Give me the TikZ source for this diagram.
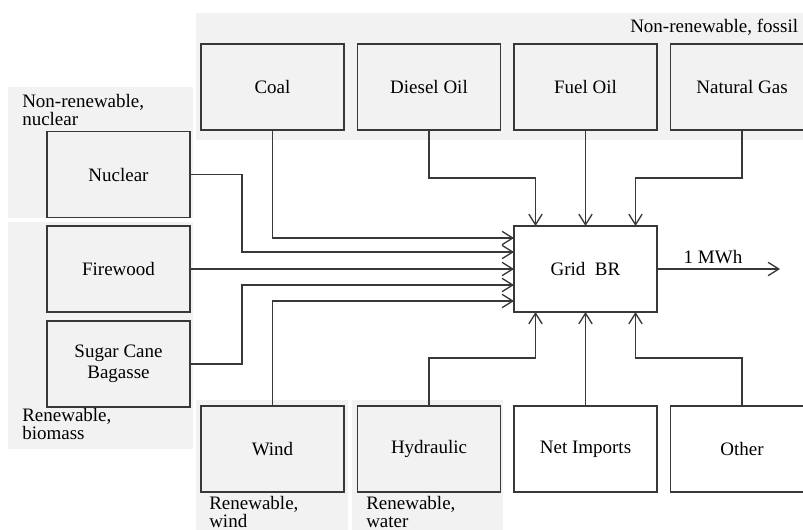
\documentclass[tikz,border=0pt]{standalone}
\usepackage{fontspec}
\setmainfont{Liberation Serif}
\usetikzlibrary{arrows.meta,calc}
\definecolor{bggray}{HTML}{F2F2F2}
\definecolor{linegray}{HTML}{383838}
\begin{document}
\begin{tikzpicture}[x=0.75pt,y=-0.75pt,
  region/.style={fill=bggray,draw=none},
  srcbox/.style={draw=linegray,line width=1pt,fill=bggray,minimum width=107.25pt,minimum height=64.5pt,inner sep=0pt,outer sep=0pt,align=center,font=\fontsize{14.25}{15.75}\selectfont},
  whitebox/.style={srcbox,fill=white},
  arr/.style={draw=linegray,line width=1pt,-{Straight Barb[length=8pt,width=10pt,line width=1pt]}},
  grouplabel/.style={anchor=base west,inner sep=0pt,font=\fontsize{14.25}{13.5}\selectfont}]
\useasboundingbox (0,0) rectangle (803,529);
\fill[white] (0,0) rectangle (803,529);
% background regions
\path[region] (196,13) rectangle (815,140);
\path[region] (8,87) rectangle (193,218);
\path[region] (8,222) rectangle (193,449);
\path[region] (196,400) rectangle (348,535);
\path[region] (352,400) rectangle (503,535);
% group labels
\node[grouplabel] (lfossil) at (630,32) {Non-renewable, fossil};
\node[grouplabel] (lnuclear) at (22,107) {\begin{tabular}[t]{@{}l@{}}Non-renewable,\\nuclear\end{tabular}};
\node[grouplabel] (lbiomass) at (22,421) {\begin{tabular}[t]{@{}l@{}}Renewable,\\biomass\end{tabular}};
\node[grouplabel] (lwind) at (209,509) {\begin{tabular}[t]{@{}l@{}}Renewable,\\wind\end{tabular}};
\node[grouplabel] (lwater) at (366,509) {\begin{tabular}[t]{@{}l@{}}Renewable,\\water\end{tabular}};
% boxes
\node[srcbox] (coal) at (272.5,87) {Coal};
\node[srcbox] (diesel) at (429,87) {Diesel Oil};
\node[srcbox] (fuel) at (585.5,87) {Fuel Oil};
\node[srcbox] (gas) at (742,87) {Natural Gas};
\node[srcbox] (nuclear) at (118.5,174.5) {Nuclear};
\node[srcbox] (firewood) at (118.5,269) {Firewood};
\node[srcbox] (sugar) at (118.5,364) {Sugar Cane\\Bagasse};
\node[srcbox] (wind) at (272.5,449) {Wind};
\node[srcbox] (hydro) at (429,449) {Hydraulic};
\node[whitebox] (net) at (585.5,449) {Net Imports};
\node[whitebox] (other) at (742,449) {Other};
\node[whitebox] (grid) at (585.5,269) {Grid~~BR};
% connectors from the left
\draw[arr] (coal.south) |- ($(grid.west)+(0,-31)$);
\draw[arr] (nuclear.east) -- ++(52,0) |- ($(grid.west)+(0,-17)$);
\draw[arr] (firewood.east) -- (grid.west);
\draw[arr] (sugar.east) -- ++(52,0) |- ($(grid.west)+(0,16)$);
\draw[arr] (wind.north) |- ($(grid.west)+(0,32)$);
% connectors from the top
\draw[arr] (diesel.south) -- ++(0,48) -| ($(grid.north)+(-50,0)$);
\draw[arr] (fuel.south) -- (grid.north);
\draw[arr] (gas.south) -- ++(0,48) -| ($(grid.north)+(50,0)$);
% connectors from the bottom
\draw[arr] (hydro.north) -- ++(0,-48) -| ($(grid.south)+(-50,0)$);
\draw[arr] (net.north) -- (grid.south);
\draw[arr] (other.north) -- ++(0,-48) -| ($(grid.south)+(50,0)$);
% output
\coordinate (out) at (780,269);
\draw[arr] (grid.east) -- (out);
\node[anchor=base,inner sep=0pt,font=\fontsize{14.25}{15.75}\selectfont] (mwh) at (713,263) {1 MWh};
\end{tikzpicture}
\end{document}
